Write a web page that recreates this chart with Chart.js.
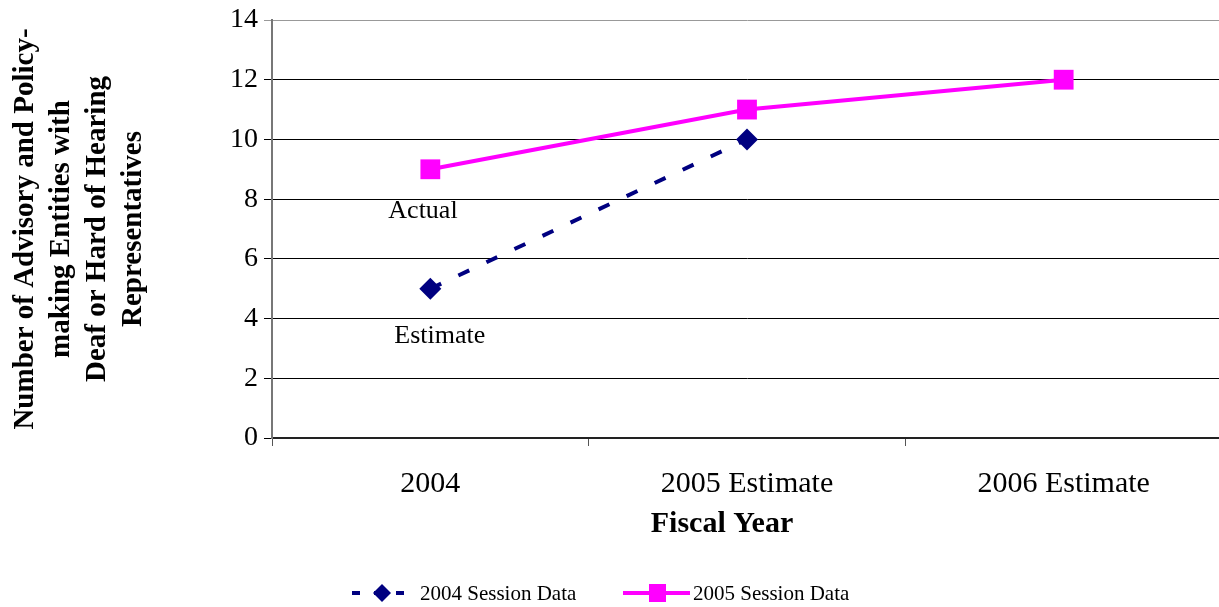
<!DOCTYPE html>
<html>
<head>
<meta charset="utf-8">
<script src="https://cdn.jsdelivr.net/npm/chart.js@4.4.1/dist/chart.umd.min.js"></script>
<style>
  html, body { margin: 0; padding: 0; background: #fff; overflow: hidden; }
  #wrap { width: 1236px; height: 607px; }
</style>
</head>
<body>
<div id="wrap"><canvas id="fyChart" width="1236" height="607"></canvas></div>
<script>
var fiscalYears = ['2004', '2005 Estimate', '2006 Estimate'];
var session2004 = [5, 10, null];
var session2005 = [9, 11, 12];
var yTicks = [0, 2, 4, 6, 8, 10, 12, 14];

var navy = '#000080',
    magenta = '#FF00FF',
    serif = '"Liberation Serif", "Times New Roman", serif';

// "Actual" / "Estimate" notes beside the 2004 points, plus the x title
var notesPlugin = {
    id: 'notes',
    afterDatasetsDraw: function (chart) {
        var ctx = chart.ctx,
            x = chart.scales.x.getPixelForValue(0),
            yS = chart.scales.y;
        ctx.save();
        ctx.font = '26px ' + serif;
        ctx.fillStyle = '#000';
        ctx.textBaseline = 'middle';
        ctx.textAlign = 'left';
        ctx.fillText('Actual', x - 42, yS.getPixelForValue(7.6));
        ctx.fillText('Estimate', x - 36, yS.getPixelForValue(3.4));
        // original title sits a bit left of the plot centre
        ctx.font = 'bold 30px ' + serif;
        ctx.textAlign = 'center';
        ctx.fillText('Fiscal Year', 722, 524);
        ctx.restore();
    }
};

// legend with line sample + marker, like the original
var legendPlugin = {
    id: 'sessionLegend',
    afterDraw: function (chart) {
        var ctx = chart.ctx, y = 593;
        ctx.save();
        ctx.lineWidth = 4;
        ctx.strokeStyle = navy;
        ctx.setLineDash([8, 14]);
        ctx.beginPath();
        ctx.moveTo(352, y); ctx.lineTo(408, y);
        ctx.stroke();
        ctx.setLineDash([]);
        ctx.fillStyle = navy;
        ctx.beginPath();
        ctx.moveTo(382, y - 9); ctx.lineTo(391, y); ctx.lineTo(382, y + 9); ctx.lineTo(373, y);
        ctx.closePath(); ctx.fill();

        ctx.strokeStyle = magenta;
        ctx.beginPath();
        ctx.moveTo(623, y); ctx.lineTo(690, y);
        ctx.stroke();
        ctx.fillStyle = magenta;
        ctx.fillRect(657 - 8, y - 9, 17, 18);

        ctx.fillStyle = '#000';
        ctx.font = '21px ' + serif;
        ctx.textBaseline = 'middle';
        ctx.fillText('2004 Session Data', 420, y + 1);
        ctx.fillText('2005 Session Data', 693, y + 1);
        ctx.restore();
    }
};

new Chart(document.getElementById('fyChart'), {
    type: 'line',
    data: {
        labels: fiscalYears,
        datasets: [
            {
                label: '2004 Session Data',
                data: session2004,
                borderColor: navy,
                backgroundColor: navy,
                borderWidth: 4,
                borderDash: [12, 19],
                borderCapStyle: 'butt',
                pointStyle: 'rectRot',
                pointRadius: 11,
                pointBorderWidth: 0,
                pointBackgroundColor: navy,
                tension: 0,
                spanGaps: false
            },
            {
                label: '2005 Session Data',
                data: session2005,
                borderColor: magenta,
                backgroundColor: magenta,
                borderWidth: 4,
                pointStyle: 'rect',
                pointRadius: 14,
                pointBorderWidth: 0,
                pointBackgroundColor: magenta,
                tension: 0
            }
        ]
    },
    options: {
        responsive: false,
        animation: false,
        devicePixelRatio: 1,
        layout: { padding: { left: 0, right: 2, top: 19, bottom: 58 } },
        plugins: {
            legend: { display: false },
            tooltip: { enabled: false }
        },
        scales: {
            x: {
                offset: true,
                grid: {
                    offset: true,
                    drawOnChartArea: false,
                    drawTicks: true,
                    tickLength: 8,
                    color: '#555'
                },
                border: { color: '#222', width: 2 },
                ticks: {
                    color: '#000',
                    padding: 20,
                    maxRotation: 0,
                    font: { family: serif, size: 30 }
                },
                title: { display: false },
                afterFit: function (scale) { scale.height = 111; }
            },
            y: {
                min: 0,
                max: 14,
                afterBuildTicks: function (scale) {
                    scale.ticks = yTicks.map(function (v) { return { value: v }; });
                },
                grid: {
                    color: function (c) { return c.tick && c.tick.value === 14 ? '#999' : '#000'; },
                    tickLength: 8,
                    drawTicks: true
                },
                border: { color: '#777', width: 2 },
                ticks: {
                    color: '#000',
                    padding: 6,
                    font: { family: serif, size: 28, lineHeight: 1 }
                },
                title: {
                    display: true,
                    text: ['Number of Advisory and Policy-', 'making Entities with', 'Deaf or Hard of Hearing', 'Representatives'],
                    color: '#000',
                    padding: { top: 8, bottom: 0 },
                    font: { family: serif, size: 29, weight: 'bold', lineHeight: 1.24 }
                },
                afterFit: function (scale) { scale.width = 272; }
            }
        }
    },
    plugins: [notesPlugin, legendPlugin]
});
</script>
</body>
</html>
